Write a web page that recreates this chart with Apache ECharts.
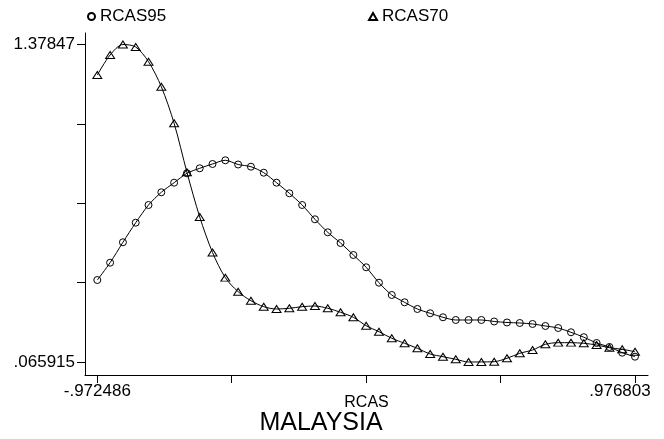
<!DOCTYPE html>
<html>
<head>
<meta charset="utf-8">
<script src="https://cdn.jsdelivr.net/npm/echarts@6/dist/echarts.min.js"></script>
<style>
  html, body { margin: 0; padding: 0; background: #fff; }
  #main { width: 664px; height: 439px; }
</style>
</head>
<body>
<div id="main"></div>
<script>
// x grid (RCAS)
const rcas = [
  -0.972486, -0.926074, -0.879663, -0.833251, -0.786840, -0.740428, -0.694016,
  -0.647605, -0.601193, -0.554782, -0.508370, -0.461958, -0.415547, -0.369135,
  -0.322724, -0.276312, -0.229900, -0.183489, -0.137077, -0.090666, -0.044254,
  0.002158, 0.048569, 0.094981, 0.141392, 0.187804, 0.234216, 0.280627,
  0.327039, 0.373450, 0.419862, 0.466274, 0.512685, 0.559097, 0.605508,
  0.651920, 0.698332, 0.744743, 0.791155, 0.837566, 0.883978, 0.930389, 0.976803
];
const rcas95 = [
  0.4049, 0.4765, 0.5608, 0.6418, 0.7150, 0.7675, 0.8072, 0.8460, 0.8667,
  0.8845, 0.8998, 0.8824, 0.8733, 0.8485, 0.8072, 0.7634, 0.7150, 0.6559,
  0.6021, 0.5579, 0.5083, 0.4575, 0.3938, 0.3430, 0.3128, 0.2851, 0.2673,
  0.2508, 0.2396, 0.2396, 0.2396, 0.2334, 0.2293, 0.2272, 0.2231, 0.2148,
  0.2065, 0.1888, 0.1685, 0.1445, 0.1280, 0.1044, 0.0879
];
const rcas70 = [
  1.2524, 1.3351, 1.37847, 1.3681, 1.3074, 1.2040, 1.0527, 0.8502, 0.6654,
  0.5186, 0.4145, 0.3566, 0.3194, 0.2946, 0.2851, 0.2880, 0.2946, 0.2975,
  0.2880, 0.2714, 0.2508, 0.2160, 0.1912, 0.1640, 0.1433, 0.1226, 0.0990,
  0.0879, 0.0771, 0.065915, 0.0662, 0.0672, 0.0813, 0.1019, 0.1156, 0.1391,
  0.1458, 0.1458, 0.1433, 0.1362, 0.1251, 0.1185, 0.1085
];
const xTicks = [-0.972486, -0.485164, 0.002159, 0.489481, 0.976803];
const xTickLabels = ['-.972486', '', '', '', '.976803'];
const yTicks = [0.065915, 0.394054, 0.722193, 1.050331, 1.37847];
const yTickLabels = ['.065915', '', '', '', '1.37847'];

const font = 'Liberation Sans';

function pairs(xs, ys) {
  return xs.map((x, i) => [x, ys[i]]);
}

const chart = echarts.init(document.getElementById('main'));

const markerStyle = {
  color: 'rgba(0,0,0,0)',
  borderColor: '#000',
  borderWidth: 1
};

chart.setOption({
  animation: false,
  backgroundColor: '#fff',
  textStyle: { fontFamily: font, color: '#000' },
  grid: { left: 85, right: 16, top: 33, bottom: 64 },
  legend: [
    {
      data: ['RCAS95'],
      left: 82, top: 3,
      icon: 'circle',
      itemWidth: 7, itemHeight: 7,
      textStyle: { fontFamily: font, fontSize: 17, color: '#000' }
    },
    {
      data: ['RCAS70'],
      left: 363, top: 3,
      icon: 'triangle',
      itemWidth: 8, itemHeight: 7,
      textStyle: { fontFamily: font, fontSize: 17, color: '#000' }
    }
  ],
  xAxis: {
    type: 'value',
    min: -1.0171,
    max: 1.0239,
    name: 'RCAS',
    nameLocation: 'middle',
    nameGap: 20,
    nameMoveOverlap: false,
    nameTextStyle: { fontFamily: font, fontSize: 16, color: '#000', verticalAlign: 'top' },
    axisLine: { show: true, onZero: false, lineStyle: { color: '#000', width: 1 } },
    axisTick: { show: true, length: 8, customValues: xTicks, lineStyle: { color: '#000' } },
    axisLabel: {
      customValues: [xTicks[0], xTicks[4]],
      margin: 8,
      fontSize: 17,
      color: '#000',
      formatter: v => {
        const i = xTicks.indexOf(v);
        if (i === 4) return '{r|' + xTickLabels[i] + '}';
        return xTickLabels[i] || '';
      },
      rich: {
        r: { fontFamily: font, fontSize: 17, color: '#000', padding: [0, 30, 0, 0] }
      }
    },
    splitLine: { show: false }
  },
  yAxis: {
    type: 'value',
    min: 0.0122,
    max: 1.426,
    axisLine: { show: true, onZero: false, lineStyle: { color: '#000', width: 1 } },
    axisTick: { show: true, length: 8, customValues: yTicks, lineStyle: { color: '#000' } },
    axisLabel: {
      customValues: [yTicks[0], yTicks[4]],
      margin: 10,
      fontSize: 17,
      color: '#000',
      formatter: v => yTickLabels[yTicks.indexOf(v)] || ''
    },
    splitLine: { show: false }
  },
  graphic: [
    {
      type: 'text',
      style: {
        text: 'MALAYSIA',
        x: 321, y: 423,
        align: 'center', verticalAlign: 'middle',
        fontFamily: font, fontSize: 25, fill: '#000'
      }
    }
  ],
  series: [
    {
      name: 'RCAS95',
      type: 'line',
      data: pairs(rcas, rcas95),
      smooth: 0.3,
      symbol: 'circle',
      symbolSize: 7,
      itemStyle: markerStyle,
      lineStyle: { color: '#000', width: 1 }
    },
    {
      name: 'RCAS70',
      type: 'line',
      data: pairs(rcas, rcas70),
      smooth: 0.3,
      symbol: 'triangle',
      symbolSize: [9, 7],
      itemStyle: markerStyle,
      lineStyle: { color: '#000', width: 1 }
    }
  ]
});
</script>
</body>
</html>
